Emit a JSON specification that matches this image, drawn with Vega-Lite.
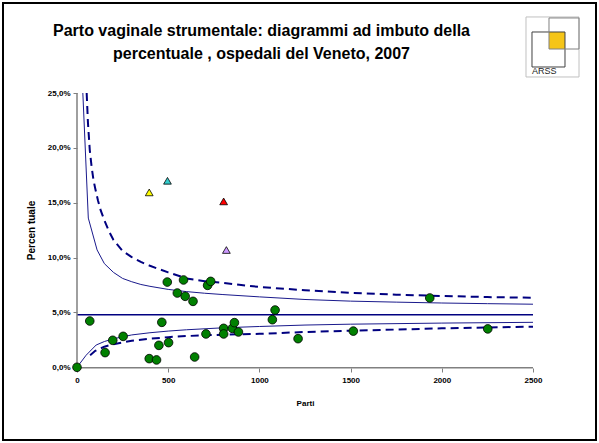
{
  "$schema": "https://vega.github.io/schema/vega-lite/v6.json",
  "width": 593,
  "height": 437,
  "autosize": {"type": "none"},
  "padding": 3,
  "background": "white",
  "config": {"view": {"stroke": "black", "strokeWidth": 2}, "font": "Liberation Sans"},
  "title": {
    "text": ["Parto vaginale strumentale: diagrammi ad imbuto della", "percentuale , ospedali del Veneto, 2007"],
    "font": "Liberation Sans", "fontSize": 16, "fontWeight": "bold", "color": "black",
    "anchor": "middle", "baseline": "top", "offset": 0, "dx": -38, "dy": 59, "lineHeight": 23
  },
  "datasets": {
    "hosp": [
      {"n": 0, "pct": 0, "grp": "in"},
      {"n": 70, "pct": 4.22, "grp": "in"},
      {"n": 154, "pct": 1.34, "grp": "in"},
      {"n": 196, "pct": 2.46, "grp": "in"},
      {"n": 253, "pct": 2.82, "grp": "in"},
      {"n": 396, "pct": 0.79, "grp": "in"},
      {"n": 436, "pct": 0.67, "grp": "in"},
      {"n": 449, "pct": 2.0, "grp": "in"},
      {"n": 465, "pct": 4.1, "grp": "in"},
      {"n": 502, "pct": 2.25, "grp": "in"},
      {"n": 495, "pct": 7.77, "grp": "in"},
      {"n": 550, "pct": 6.77, "grp": "in"},
      {"n": 584, "pct": 7.96, "grp": "in"},
      {"n": 593, "pct": 6.47, "grp": "in"},
      {"n": 636, "pct": 6.01, "grp": "in"},
      {"n": 645, "pct": 0.94, "grp": "in"},
      {"n": 707, "pct": 3.04, "grp": "in"},
      {"n": 716, "pct": 7.47, "grp": "in"},
      {"n": 733, "pct": 7.83, "grp": "in"},
      {"n": 804, "pct": 3.55, "grp": "in"},
      {"n": 804, "pct": 3.04, "grp": "in"},
      {"n": 852, "pct": 3.55, "grp": "in"},
      {"n": 863, "pct": 4.07, "grp": "in"},
      {"n": 885, "pct": 3.22, "grp": "in"},
      {"n": 1071, "pct": 4.34, "grp": "in"},
      {"n": 1086, "pct": 5.22, "grp": "in"},
      {"n": 1212, "pct": 2.61, "grp": "in"},
      {"n": 1515, "pct": 3.3, "grp": "in"},
      {"n": 1934, "pct": 6.32, "grp": "in"},
      {"n": 2252, "pct": 3.5, "grp": "in"},
      {"n": 396, "pct": 15.94, "grp": "A"},
      {"n": 496, "pct": 17.0, "grp": "B"},
      {"n": 804, "pct": 15.12, "grp": "C"},
      {"n": 819, "pct": 10.69, "grp": "D"}
    ],
    "funnel": [
      {"curve": "u2", "n": 32, "pct": 25.0},
      {"curve": "u2", "n": 62, "pct": 13.6},
      {"curve": "u2", "n": 110, "pct": 10.7},
      {"curve": "u2", "n": 150, "pct": 9.45},
      {"curve": "u2", "n": 200, "pct": 8.65},
      {"curve": "u2", "n": 250, "pct": 8.1},
      {"curve": "u2", "n": 300, "pct": 7.8},
      {"curve": "u2", "n": 350, "pct": 7.55},
      {"curve": "u2", "n": 400, "pct": 7.38},
      {"curve": "u2", "n": 500, "pct": 7.1},
      {"curve": "u2", "n": 600, "pct": 6.9},
      {"curve": "u2", "n": 700, "pct": 6.75},
      {"curve": "u2", "n": 800, "pct": 6.63},
      {"curve": "u2", "n": 1000, "pct": 6.42},
      {"curve": "u2", "n": 1250, "pct": 6.18},
      {"curve": "u2", "n": 1500, "pct": 6.03},
      {"curve": "u2", "n": 1750, "pct": 5.94},
      {"curve": "u2", "n": 2000, "pct": 5.86},
      {"curve": "u2", "n": 2250, "pct": 5.8},
      {"curve": "u2", "n": 2500, "pct": 5.75},
      {"curve": "u3", "n": 53, "pct": 25.0},
      {"curve": "u3", "n": 60, "pct": 22.3},
      {"curve": "u3", "n": 70, "pct": 19.8},
      {"curve": "u3", "n": 80, "pct": 18.3},
      {"curve": "u3", "n": 90, "pct": 17.1},
      {"curve": "u3", "n": 100, "pct": 16.3},
      {"curve": "u3", "n": 115, "pct": 15.2},
      {"curve": "u3", "n": 130, "pct": 14.3},
      {"curve": "u3", "n": 150, "pct": 13.4},
      {"curve": "u3", "n": 175, "pct": 12.4},
      {"curve": "u3", "n": 200, "pct": 11.6},
      {"curve": "u3", "n": 250, "pct": 10.6},
      {"curve": "u3", "n": 300, "pct": 10.05},
      {"curve": "u3", "n": 350, "pct": 9.6},
      {"curve": "u3", "n": 400, "pct": 9.25},
      {"curve": "u3", "n": 450, "pct": 8.95},
      {"curve": "u3", "n": 500, "pct": 8.65},
      {"curve": "u3", "n": 600, "pct": 8.1},
      {"curve": "u3", "n": 700, "pct": 7.85},
      {"curve": "u3", "n": 800, "pct": 7.7},
      {"curve": "u3", "n": 900, "pct": 7.5},
      {"curve": "u3", "n": 1000, "pct": 7.32},
      {"curve": "u3", "n": 1250, "pct": 7.02},
      {"curve": "u3", "n": 1500, "pct": 6.78},
      {"curve": "u3", "n": 1750, "pct": 6.62},
      {"curve": "u3", "n": 2000, "pct": 6.5},
      {"curve": "u3", "n": 2250, "pct": 6.4},
      {"curve": "u3", "n": 2500, "pct": 6.34},
      {"curve": "l2", "n": 0, "pct": 0},
      {"curve": "l2", "n": 50, "pct": 1.1},
      {"curve": "l2", "n": 105, "pct": 2.03},
      {"curve": "l2", "n": 150, "pct": 2.35},
      {"curve": "l2", "n": 200, "pct": 2.6},
      {"curve": "l2", "n": 300, "pct": 2.95},
      {"curve": "l2", "n": 400, "pct": 3.15},
      {"curve": "l2", "n": 500, "pct": 3.3},
      {"curve": "l2", "n": 600, "pct": 3.42},
      {"curve": "l2", "n": 800, "pct": 3.6},
      {"curve": "l2", "n": 1000, "pct": 3.72},
      {"curve": "l2", "n": 1250, "pct": 3.85},
      {"curve": "l2", "n": 1500, "pct": 3.93},
      {"curve": "l2", "n": 2000, "pct": 4.03},
      {"curve": "l2", "n": 2500, "pct": 4.1},
      {"curve": "l3", "n": 72, "pct": 1.1},
      {"curve": "l3", "n": 100, "pct": 1.5},
      {"curve": "l3", "n": 150, "pct": 1.88},
      {"curve": "l3", "n": 200, "pct": 2.1},
      {"curve": "l3", "n": 300, "pct": 2.42},
      {"curve": "l3", "n": 400, "pct": 2.6},
      {"curve": "l3", "n": 500, "pct": 2.75},
      {"curve": "l3", "n": 600, "pct": 2.85},
      {"curve": "l3", "n": 800, "pct": 2.97},
      {"curve": "l3", "n": 1000, "pct": 3.05},
      {"curve": "l3", "n": 1250, "pct": 3.22},
      {"curve": "l3", "n": 1500, "pct": 3.33},
      {"curve": "l3", "n": 2000, "pct": 3.55},
      {"curve": "l3", "n": 2500, "pct": 3.7},
      {"curve": "mean", "n": 0, "pct": 4.8},
      {"curve": "mean", "n": 2500, "pct": 4.8}
    ]
  },
  "layer": [
    {
      "data": {"name": "funnel"},
      "transform": [{"filter": "datum.curve == 'u2' || datum.curve == 'l2'"}],
      "mark": {"type": "line", "color": "#1a1a8c", "strokeWidth": 1},
      "encoding": {
        "x": {
          "field": "n", "type": "quantitative",
          "scale": {"domain": [-405.7, 2845.4], "nice": false, "zero": false},
          "axis": {
            "orient": "bottom", "offset": -72, "values": [0, 500, 1000, 1500, 2000, 2500], "format": "d",
            "domain": false, "grid": false, "ticks": true, "tickSize": 4, "tickColor": "#808080",
            "labelFont": "Liberation Sans", "labelFontSize": 8, "labelFontWeight": "bold", "labelColor": "black",
            "labelPadding": 4, "labelFlush": false, "labelOverlap": false,
            "title": "Parti", "titleFont": "Liberation Sans", "titleFontSize": 8, "titleFontWeight": "bold", "titleColor": "black",
            "titleX": 302, "titleY": 35, "titleAlign": "center", "titleBaseline": "middle"
          }
        },
        "y": {
          "field": "pct", "type": "quantitative",
          "scale": {"domain": [-6.626, 33.203], "nice": false, "zero": false},
          "axis": {
            "orient": "left", "offset": -74, "values": [0, 5, 10, 15, 20, 25],
            "labelExpr": "replace(format(datum.value, '.1f'), '.', ',') + '%'",
            "domain": false, "grid": false, "ticks": true, "tickSize": 4, "tickColor": "#808080",
            "labelFont": "Liberation Sans", "labelFontSize": 8, "labelFontWeight": "bold", "labelColor": "black",
            "labelPadding": 3, "labelFlush": false, "labelOverlap": false,
            "title": "Percen tuale", "titleFont": "Liberation Sans", "titleFontSize": 10, "titleFontWeight": "bold", "titleColor": "black",
            "titleX": -46, "titleY": 227, "titleAngle": -90, "titleAlign": "center", "titleBaseline": "middle"
          }
        },
        "detail": {"field": "curve"}
      }
    },
    {
      "data": {"name": "funnel"},
      "transform": [{"filter": "datum.curve == 'u3' || datum.curve == 'l3'"}],
      "mark": {"type": "line", "color": "#000080", "strokeWidth": 2, "strokeDash": [8, 5]},
      "encoding": {
        "x": {"field": "n", "type": "quantitative"},
        "y": {"field": "pct", "type": "quantitative"},
        "detail": {"field": "curve"}
      }
    },
    {
      "data": {"name": "funnel"},
      "transform": [{"filter": "datum.curve == 'mean'"}],
      "mark": {"type": "line", "color": "#000080", "strokeWidth": 1.5},
      "encoding": {
        "x": {"field": "n", "type": "quantitative"},
        "y": {"field": "pct", "type": "quantitative"}
      }
    },
    {
      "data": {"values": [{"k": 1}]},
      "mark": {"type": "rule", "color": "#808080", "strokeWidth": 1.5},
      "encoding": {"x": {"datum": 0}, "x2": {"datum": 2500}, "y": {"datum": -0.05}}
    },
    {
      "data": {"values": [{"k": 1}]},
      "mark": {"type": "rule", "color": "#808080", "strokeWidth": 1.5},
      "encoding": {"x": {"datum": 0}, "y": {"datum": 0}, "y2": {"datum": 25}}
    },
    {
      "data": {"name": "hosp"},
      "transform": [{"filter": "datum.grp == 'in'"}],
      "mark": {"type": "point", "shape": "circle", "filled": true, "fill": "#008000", "stroke": "black", "strokeWidth": 0.8, "size": 75, "opacity": 1},
      "encoding": {
        "x": {"field": "n", "type": "quantitative"},
        "y": {"field": "pct", "type": "quantitative"}
      }
    },
    {
      "data": {"name": "hosp"},
      "transform": [{"filter": "datum.grp != 'in'"}],
      "mark": {"type": "point", "shape": "triangle-up", "filled": true, "stroke": "black", "strokeWidth": 0.8, "size": 60, "opacity": 1},
      "encoding": {
        "x": {"field": "n", "type": "quantitative"},
        "y": {"field": "pct", "type": "quantitative"},
        "fill": {"field": "grp", "type": "nominal", "scale": {"domain": ["A", "B", "C", "D"], "range": ["#FFFF00", "#33CCCC", "#FF0000", "#CC99FF"]}, "legend": null}
      }
    },
    {
      "data": {"values": [{"k": 1}]},
      "mark": {"type": "rect", "fill": "white", "stroke": "#c0c0c0", "strokeWidth": 1},
      "encoding": {"x": {"datum": 2461.6}, "x2": {"datum": 2752.2}, "y": {"datum": 31.93}, "y2": {"datum": 26.46}}
    },
    {
      "data": {"values": [{"k": 1}]},
      "mark": {"type": "rect", "fill": "#F5C518", "strokeWidth": 0},
      "encoding": {"x": {"datum": 2587.7}, "x2": {"datum": 2675.4}, "y": {"datum": 30.56}, "y2": {"datum": 29.01}}
    },
    {
      "data": {"values": [{"k": 1}]},
      "mark": {"type": "rect", "fill": "white", "fillOpacity": 0, "stroke": "#404040", "strokeWidth": 1},
      "encoding": {"x": {"datum": 2494.5}, "x2": {"datum": 2675.4}, "y": {"datum": 30.56}, "y2": {"datum": 27.37}}
    },
    {
      "data": {"values": [{"k": 1}]},
      "mark": {"type": "rect", "fill": "white", "fillOpacity": 0, "stroke": "#808080", "strokeWidth": 1},
      "encoding": {"x": {"datum": 2587.7}, "x2": {"datum": 2752.2}, "y": {"datum": 31.84}, "y2": {"datum": 29.01}}
    },
    {
      "data": {"values": [{"k": 1}]},
      "mark": {"type": "text", "text": "ARSS", "font": "Liberation Sans", "fontSize": 9, "color": "#222222", "align": "left", "baseline": "alphabetic"},
      "encoding": {"x": {"datum": 2494.5}, "y": {"datum": 26.73}}
    }
  ]
}
